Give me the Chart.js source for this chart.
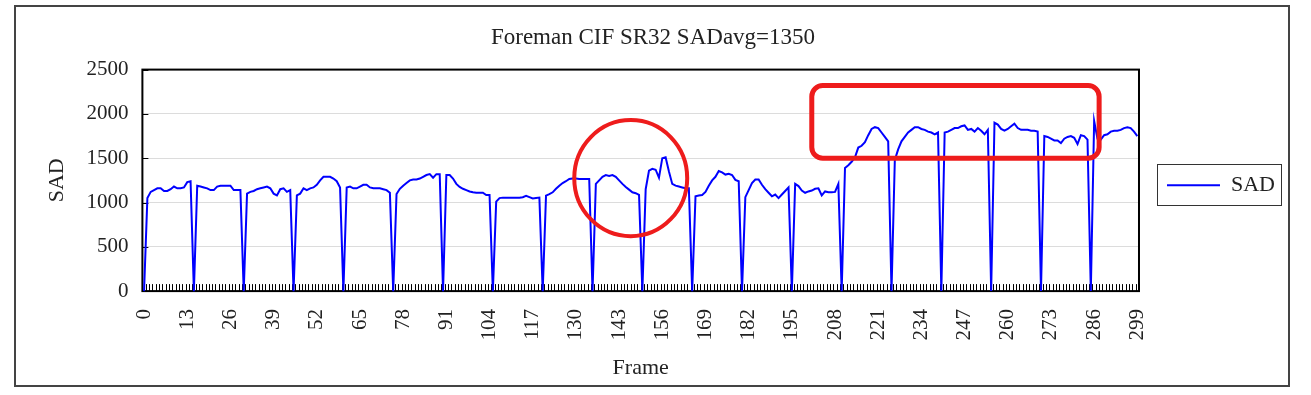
<!DOCTYPE html>
<html>
<head>
<meta charset="utf-8">
<script src="https://cdn.jsdelivr.net/npm/chart.js@4.4.1/dist/chart.umd.min.js"></script>
<style>
  html, body { margin: 0; padding: 0; background: #fff; }
  #frame {
    position: absolute; left: 14px; top: 5px;
    width: 1276px; height: 382px;
    border: 2px solid #444; box-sizing: border-box;
  }
  #wrap { position: absolute; left: 0; top: 0; width: 1311px; height: 395px; }
</style>
</head>
<body>
<div id="frame"></div>
<div id="wrap"><canvas id="sadChart"></canvas></div>
<script>
/* ─── Data: SAD per frame, 15-frame groups (each starts with an I-frame = 0) ─── */
const sad = [
  0, 1050, 1120, 1140, 1160, 1160, 1130, 1130, 1150, 1180, 1160, 1160, 1170, 1230, 1240,   // 0
  0, 1190, 1180, 1170, 1160, 1140, 1140, 1180, 1190, 1190, 1190, 1190, 1140, 1140, 1140,   // 15
  0, 1100, 1120, 1130, 1150, 1160, 1170, 1180, 1160, 1100, 1080, 1150, 1160, 1120, 1140,   // 30
  0, 1080, 1100, 1160, 1140, 1160, 1170, 1200, 1250, 1290, 1290, 1290, 1270, 1240, 1170,   // 45
  0, 1170, 1180, 1160, 1160, 1180, 1200, 1200, 1170, 1160, 1160, 1160, 1150, 1140, 1110,   // 60
  0, 1095, 1155, 1190, 1220, 1250, 1260, 1260, 1270, 1290, 1310, 1320, 1280, 1320, 1320,   // 75
  0, 1310, 1310, 1270, 1210, 1175, 1155, 1140, 1125, 1115, 1110, 1110, 1110, 1085, 1085,   // 90
  0, 1010, 1050, 1055, 1055, 1055, 1055, 1055, 1055, 1060, 1075, 1060, 1045, 1050, 1055,   // 105
  0, 1077, 1095, 1115, 1155, 1190, 1220, 1240, 1265, 1270, 1270, 1265, 1265, 1265, 1265,   // 120
  0, 1210, 1250, 1290, 1310, 1300, 1310, 1290, 1250, 1210, 1175, 1145, 1115, 1105, 1085,   // 135
  0, 1150, 1360, 1380, 1370, 1280, 1500, 1510, 1350, 1210, 1190, 1180, 1170, 1160, 1160,   // 150
  0, 1070, 1080, 1085, 1120, 1190, 1250, 1290, 1355, 1340, 1315, 1325, 1310, 1255, 1240,   // 165
  0, 1060, 1140, 1220, 1260, 1260, 1200, 1150, 1110, 1070, 1090, 1050, 1090, 1130, 1170,   // 180
  0, 1210, 1185, 1135, 1110, 1125, 1135, 1155, 1160, 1080, 1125, 1115, 1115, 1120, 1210,   // 195
  0, 1390, 1420, 1460, 1510, 1620, 1640, 1680, 1760, 1830, 1850, 1840, 1790, 1740, 1690,   // 210
  0, 1480, 1600, 1690, 1740, 1790, 1820, 1850, 1850, 1830, 1820, 1800, 1790, 1770, 1790,   // 225
  0, 1790, 1800, 1820, 1840, 1840, 1860, 1870, 1820, 1830, 1800, 1840, 1810, 1770, 1820,   // 240
  0, 1900, 1880, 1830, 1810, 1830, 1860, 1890, 1840, 1820, 1820, 1820, 1810, 1810, 1800,   // 255
  0, 1750, 1740, 1720, 1700, 1700, 1670, 1720, 1740, 1750, 1730, 1660, 1760, 1750, 1710,   // 270
  0, 1920, 1720, 1710, 1760, 1770, 1800, 1810, 1810, 1820, 1840, 1850, 1840, 1800, 1750    // 285
];
const frames     = sad.map((_, i) => String(i));
const tickLabels = ['0','13','26','39','52','65','78','91','104','117','130','143','156',
                    '169','182','195','208','221','234','247','260','273','286','299'];
const yTicks     = [0, 500, 1000, 1500, 2000, 2500];

// red highlight marks, in frame / SAD units
const ringFrames = [129.5, 163.5];
const ringSad    = [620, 1930];
const boxFrames  = [201, 287.5];
const boxSad     = [1500, 2320];

const SERIF = "'Liberation Serif', 'Times New Roman', serif";

/* ─── Excel-like decorations: inside ticks, plot box, legend box, highlights ─── */
const excelLook = {
  id: 'excelLook',
  beforeDatasetsDraw(chart) {
    const { ctx, chartArea: a, scales: { x, y } } = chart;
    ctx.save();
    ctx.strokeStyle = '#000';
    ctx.lineWidth = 1;
    ctx.beginPath();
    for (let i = 0; i <= frames.length; i++) {
      const px = Math.round(x.getPixelForValue(i - 0.5)) + 0.5;
      ctx.moveTo(px, a.bottom);
      ctx.lineTo(px, a.bottom - 7);
    }
    y.ticks.forEach(t => {
      const py = Math.round(y.getPixelForValue(t.value)) + 0.5;
      ctx.moveTo(a.left, py);
      ctx.lineTo(a.left + 6, py);
    });
    ctx.stroke();
    ctx.lineWidth = 2;
    ctx.strokeRect(a.left, a.top, a.right - a.left, a.bottom - a.top);
    ctx.restore();
  },
  afterDatasetsDraw(chart) {
    const { ctx, scales: { x, y } } = chart;
    ctx.save();
    ctx.strokeStyle = '#ee1c1c';
    // ring
    const cx0 = x.getPixelForValue(ringFrames[0]), cx1 = x.getPixelForValue(ringFrames[1]);
    const cy0 = y.getPixelForValue(ringSad[0]),    cy1 = y.getPixelForValue(ringSad[1]);
    ctx.lineWidth = 4;
    ctx.beginPath();
    ctx.ellipse((cx0 + cx1) / 2, (cy0 + cy1) / 2, Math.abs(cx1 - cx0) / 2, Math.abs(cy1 - cy0) / 2, 0, 0, Math.PI * 2);
    ctx.stroke();
    // rounded box
    const bx0 = x.getPixelForValue(boxFrames[0]), bx1 = x.getPixelForValue(boxFrames[1]);
    const by0 = y.getPixelForValue(boxSad[1]),    by1 = y.getPixelForValue(boxSad[0]);
    ctx.lineWidth = 5;
    ctx.beginPath();
    ctx.roundRect(bx0, by0, bx1 - bx0, by1 - by0, 11);
    ctx.stroke();
    ctx.restore();
  },
  afterDraw(chart) {
    const lg = chart.legend;
    if (!lg || !lg.legendHitBoxes.length) return;
    const hb = lg.legendHitBoxes[0];
    const { ctx } = chart;
    ctx.save();
    ctx.strokeStyle = '#333';
    ctx.lineWidth = 1;
    ctx.strokeRect(Math.round(hb.left) - 9.5, Math.round(hb.top) - 9.5,
                   Math.round(hb.width) + 16, Math.round(hb.height) + 19);
    ctx.restore();
  }
};

new Chart(document.getElementById('sadChart'), {
  type: 'line',
  data: {
    labels: frames,
    datasets: [{
      label: 'SAD',
      data: sad,
      borderColor: '#0000ff',
      backgroundColor: '#0000ff',
      borderWidth: 2,
      pointRadius: 0,
      tension: 0,
      fill: false,
      clip: false,
    }]
  },
  plugins: [excelLook],
  options: {
    responsive: true,
    maintainAspectRatio: false,
    animation: false,
    layout: { padding: { left: 21, right: 26, top: 10, bottom: 14 } },
    plugins: {
      title: {
        display: true,
        text: 'Foreman CIF SR32 SADavg=1350',
        color: '#222',
        font: { family: SERIF, size: 23, weight: 'normal' },
        padding: { top: 14, bottom: 18 }
      },
      legend: {
        display: true,
        position: 'right',
        fullSize: false,
        title: { display: true, text: ' ', font: { size: 8 }, padding: 0 },
        labels: {
          color: '#222',
          font: { family: SERIF, size: 22 },
          usePointStyle: true,
          pointStyle: 'line',
          pointStyleWidth: 53,
          padding: 28
        }
      },
      tooltip: { enabled: false }
    },
    scales: {
      x: {
        type: 'category',
        offset: true,
        grid: { display: false, drawTicks: false },
        border: { display: false },
        ticks: {
          autoSkip: false,
          minRotation: 90,
          maxRotation: 90,
          padding: 18,
          color: '#222',
          font: { family: SERIF, size: 21 },
          callback: (v, i) => tickLabels.includes(frames[i]) ? frames[i] : ''
        },
        title: {
          display: true,
          text: 'Frame',
          color: '#222',
          font: { family: SERIF, size: 22 },
          padding: { top: -4, bottom: 0 }
        }
      },
      y: {
        min: yTicks[0],
        max: yTicks[yTicks.length - 1],
        afterBuildTicks: axis => { axis.ticks = yTicks.map(v => ({ value: v })); },
        grid: { color: '#dcdcdc', lineWidth: 1, drawTicks: false },
        border: { display: false },
        ticks: {
          padding: 14,
          color: '#222',
          font: { family: SERIF, size: 21 },
          callback: v => String(v)
        },
        title: {
          display: true,
          text: 'SAD',
          color: '#222',
          font: { family: SERIF, size: 22 },
          padding: { top: 23, bottom: 2 }
        }
      }
    }
  }
});
</script>
</body>
</html>
